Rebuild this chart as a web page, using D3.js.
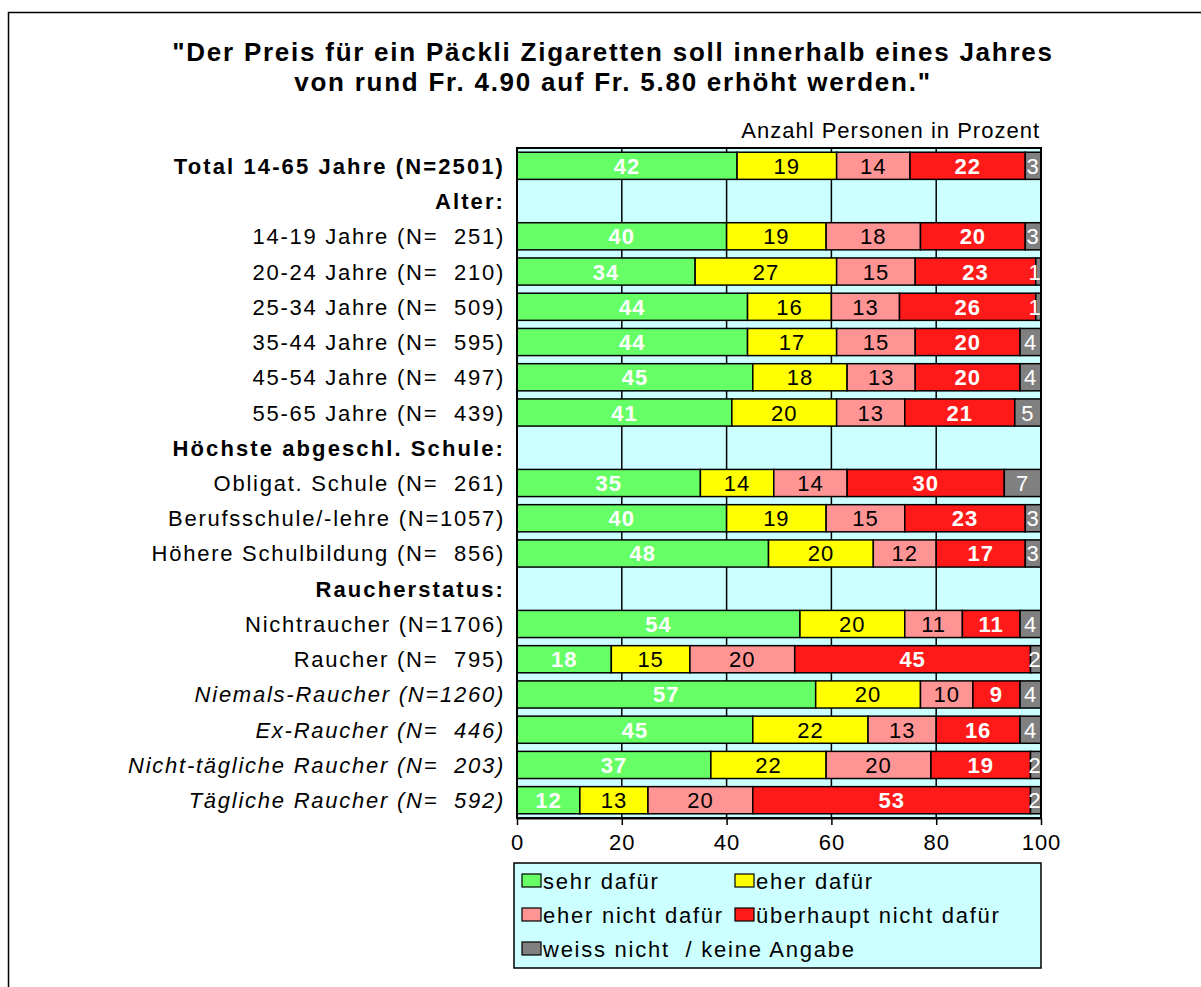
<!DOCTYPE html>
<html lang="de">
<head>
  <meta charset="UTF-8">
  <title>Päckli Zigaretten</title>
  <style>
    body { margin: 0; background: #fff; }
    svg { font-family: Arial, "Liberation Sans", sans-serif; }
  </style>
</head>
<body>
<div class="chart"></div>
<script src="https://d3js.org/d3.v7.min.js"></script>
<script>
  const categories = [
    'Total 14-65 Jahre (N=2501)', 'Alter:',
    '14-19 Jahre (N=  251)', '20-24 Jahre (N=  210)', '25-34 Jahre (N=  509)',
    '35-44 Jahre (N=  595)', '45-54 Jahre (N=  497)', '55-65 Jahre (N=  439)',
    'Höchste abgeschl. Schule:',
    'Obligat. Schule (N=  261)', 'Berufsschule/-lehre (N=1057)', 'Höhere Schulbildung (N=  856)',
    'Raucherstatus:',
    'Nichtraucher (N=1706)', 'Raucher (N=  795)',
    'Niemals-Raucher (N=1260)', 'Ex-Raucher (N=  446)',
    'Nicht-tägliche Raucher (N=  203)', 'Tägliche Raucher (N=  592)'
  ]
  const boldRows = ['Total 14-65 Jahre (N=2501)', 'Alter:', 'Höchste abgeschl. Schule:', 'Raucherstatus:']
  const italicRows = ['Niemals-Raucher (N=1260)', 'Ex-Raucher (N=  446)', 'Nicht-tägliche Raucher (N=  203)', 'Tägliche Raucher (N=  592)']

  const seriesNames = ['sehr dafür', 'eher dafür', 'eher nicht dafür', 'überhaupt nicht dafür', 'weiss nicht  / keine Angabe']
  // null = Zwischentitel ohne Balken
  const sehrDafuer   = [42, null, 40, 34, 44, 44, 45, 41, null, 35, 40, 48, null, 54, 18, 57, 45, 37, 12]
  const eherDafuer   = [19, null, 19, 27, 16, 17, 18, 20, null, 14, 19, 20, null, 20, 15, 20, 22, 22, 13]
  const eherNicht    = [14, null, 18, 15, 13, 15, 13, 13, null, 14, 15, 12, null, 11, 20, 10, 13, 20, 20]
  const ueberhaupt   = [22, null, 20, 23, 26, 20, 20, 21, null, 30, 23, 17, null, 11, 45,  9, 16, 19, 53]
  const weissNicht   = [ 3, null,  3,  1,  1,  4,  4,  5, null,  7,  3,  3, null,  4,  2,  4,  4,  2,  2]
  const xTicks = [0, 20, 40, 60, 80, 100]

  const colors = ['#66FF66', '#FFFF00', '#FF9494', '#FF1A1A', '#808080']
  const labelFill = ['#fff', '#000', '#000', '#fff', '#fff']
  const labelWeight = ['bold', 'normal', 'normal', 'bold', 'normal']

  const series = [sehrDafuer, eherDafuer, eherNicht, ueberhaupt, weissNicht]
  const rows = categories.map((c, i) => {
    const r = {cat: c}
    seriesNames.forEach((s, k) => { r[s] = series[k][i] || 0 })
    r.empty = sehrDafuer[i] === null
    return r
  })
  const stacked = d3.stack().keys(seriesNames)(rows)

  const W = 1201, H = 987
  const svg = d3.select('.chart').append('svg').attr('width', W).attr('height', H)

  // Rahmen (nur links/oben sichtbar)
  svg.append('rect').attr('x', 8.5).attr('y', 12.5).attr('width', 1220).attr('height', 1000)
    .attr('fill', 'none').attr('stroke', '#000').attr('stroke-width', 1.5)

  const m = {left: 517, right: 1041, top: 148, bottom: 818}
  const x = d3.scaleLinear().domain([0, 100]).range([m.left, m.right])
  const y = d3.scaleBand().domain(categories).range([m.top, m.bottom]).paddingInner(0.23).paddingOuter(0.12)

  // Titel
  const title = ['"Der Preis für ein Päckli Zigaretten soll innerhalb eines Jahres',
                 'von rund Fr. 4.90 auf Fr. 5.80 erhöht werden."']
  svg.append('g').selectAll('text').data(title).join('text')
    .attr('x', 613).attr('y', (d, i) => 61 + i * 30).attr('text-anchor', 'middle')
    .attr('font-size', 26).attr('font-weight', 'bold').attr('letter-spacing', 1.75)
    .text(d => d)
  svg.append('text').attr('x', 1040).attr('y', 138).attr('text-anchor', 'end')
    .attr('font-size', 22).attr('letter-spacing', 1).text('Anzahl Personen in Prozent')

  // Hintergrund + Gitter
  svg.append('rect').attr('x', m.left).attr('y', m.top).attr('width', m.right - m.left)
    .attr('height', m.bottom - m.top).attr('fill', '#CCFFFF')
  svg.append('g').selectAll('line').data(xTicks.slice(1, -1)).join('line')
    .attr('x1', d => x(d)).attr('x2', d => x(d)).attr('y1', m.top).attr('y2', m.bottom)
    .attr('stroke', '#000').attr('stroke-width', 1.5)

  // Balken
  const layers = svg.append('g').selectAll('g').data(stacked).join('g')
    .attr('fill', (d, i) => colors[i])
  layers.selectAll('rect').data(d => d.filter(p => !p.data.empty)).join('rect')
    .attr('x', d => x(d[0])).attr('width', d => x(d[1]) - x(d[0]))
    .attr('y', d => y(d.data.cat)).attr('height', y.bandwidth())
    .attr('stroke', '#000').attr('stroke-width', 1.5)

  // Werte
  stacked.forEach((layer, k) => {
    svg.append('g').selectAll('text').data(layer.filter(p => !p.data.empty)).join('text')
      .attr('x', d => {
        const cx = (x(d[0]) + x(d[1])) / 2
        return k === 4 ? Math.min(cx, m.right - 6) : cx
      })
      .attr('y', d => y(d.data.cat) + y.bandwidth() / 2 + 8)
      .attr('text-anchor', 'middle').attr('font-size', 22).attr('letter-spacing', 1)
      .attr('fill', labelFill[k]).attr('font-weight', labelWeight[k])
      .text(d => d[1] - d[0])
  })

  // Rahmen Plotfläche
  svg.append('rect').attr('x', m.left).attr('y', m.top).attr('width', m.right - m.left)
    .attr('height', m.bottom - m.top).attr('fill', 'none').attr('stroke', '#000').attr('stroke-width', 2)

  // x-Achse
  const xAxis = svg.append('g').attr('transform', `translate(0,${m.bottom})`)
    .call(d3.axisBottom(x).tickValues(xTicks).tickSize(7).tickSizeOuter(0))
  xAxis.select('.domain').attr('stroke-width', 2)
  xAxis.selectAll('.tick line').attr('stroke-width', 1.5)
  xAxis.selectAll('.tick text').attr('font-size', 22).attr('letter-spacing', 1)
    .attr('font-family', 'Arial, "Liberation Sans", sans-serif')
    .attr('fill', '#000').attr('dy', '1.0em')

  // Kategorien
  svg.append('g').selectAll('text').data(categories).join('text')
    .attr('x', 505).attr('y', d => y(d) + y.bandwidth() / 2 + 8)
    .attr('text-anchor', 'end').attr('font-size', 22)
    .attr('letter-spacing', d => boldRows.includes(d) ? 2.1 : 1.75)
    .attr('font-weight', d => boldRows.includes(d) ? 'bold' : 'normal')
    .attr('font-style', d => italicRows.includes(d) ? 'italic' : 'normal')
    .style('white-space', 'pre')
    .text(d => d)

  // Legende
  const lg = svg.append('g')
  lg.append('rect').attr('x', 514).attr('y', 863).attr('width', 527).attr('height', 105)
    .attr('fill', '#CCFFFF').attr('stroke', '#000').attr('stroke-width', 1.5)
  const legendPos = [[522, 881], [735, 881], [522, 915], [735, 915], [522, 949]]
  seriesNames.forEach((s, i) => {
    const [lx, ly] = legendPos[i]
    lg.append('rect').attr('x', lx).attr('y', ly - 7).attr('width', 19).attr('height', 13)
      .attr('fill', colors[i]).attr('stroke', '#000').attr('stroke-width', 1.2)
    lg.append('text').attr('x', lx + 21).attr('y', ly + 8).attr('font-size', 22)
      .attr('letter-spacing', 1.75).style('white-space', 'pre').text(s)
  })
</script>
</body>
</html>
